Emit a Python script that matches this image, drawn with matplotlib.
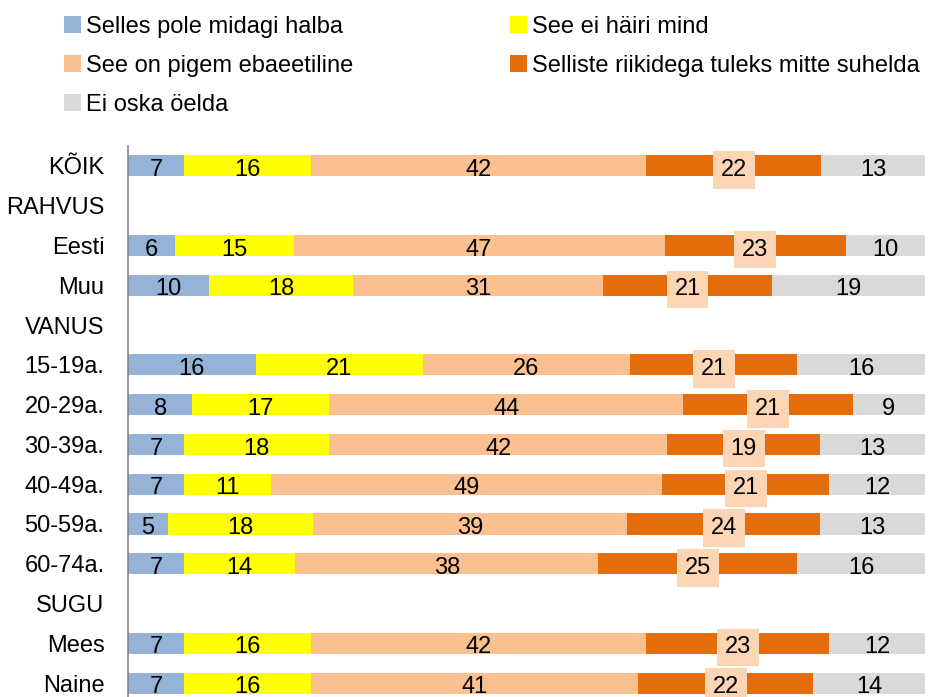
import numpy as np
import matplotlib
matplotlib.use("Agg")
import matplotlib.pyplot as plt
from matplotlib.patches import Patch

plt.rcParams['font.family'] = ['Liberation Sans', 'DejaVu Sans']

# rows of the chart, header rows have no bars
categories = ['KÕIK', 'RAHVUS', 'Eesti', 'Muu', 'VANUS', '15-19a.', '20-29a.',
              '30-39a.', '40-49a.', '50-59a.', '60-74a.', 'SUGU', 'Mees', 'Naine']
headers = ['RAHVUS', 'VANUS', 'SUGU']

series = ['Selles pole midagi halba', 'See ei häiri mind', 'See on pigem ebaeetiline',
          'Selliste riikidega tuleks mitte suhelda', 'Ei oska öelda']
colors = ['#95B3D7', '#FFFF00', '#FAC090', '#E46C0A', '#D9D9D9']

pole_halba = [7, 6, 10, 16, 8, 7, 7, 5, 7, 7, 7]
ei_hairi = [16, 15, 18, 21, 17, 18, 11, 18, 14, 16, 16]
ebaeetiline = [42, 47, 31, 26, 44, 42, 49, 39, 38, 42, 41]
mitte_suhelda = [22, 23, 21, 21, 21, 19, 21, 24, 25, 23, 22]
ei_oska = [13, 10, 19, 16, 9, 13, 12, 13, 16, 12, 14]

data = np.array([pole_halba, ei_hairi, ebaeetiline, mitte_suhelda, ei_oska], dtype=float)
shares = data / data.sum(axis=0) * 100  # 100% stacked

rows = [i for i, c in enumerate(categories) if c not in headers]
ypos = np.array(rows)

fig = plt.figure(figsize=(9.4, 6.97), dpi=100)
ax = fig.add_axes([128 / 940, -6 / 697, 797 / 940, 557 / 697])

fs = 17
bh = 0.53
left = np.zeros(len(rows))
for k in range(len(series)):
    ax.barh(ypos, shares[k], left=left, height=bh, color=colors[k], label=series[k])
    for y, l, w, v in zip(ypos, left, shares[k], data[k]):
        kw = {}
        if k == 3:
            kw['bbox'] = dict(boxstyle='square,pad=0.33', facecolor='#FCD5B5', edgecolor='none')
        ax.text(l + w / 2, y + 0.255, '%d' % v, ha='center', va='baseline',
                fontsize=fs, color='black', **kw)
    left += shares[k]

ax.set_xlim(0, 100)
ax.set_ylim(len(categories) - 0.5, -0.5)
ax.set_yticks(range(len(categories)))
ax.set_yticklabels(categories, fontsize=fs)
ax.tick_params(axis='y', length=0, pad=17)
ax.set_xticks([])
for s in ['top', 'right', 'bottom']:
    ax.spines[s].set_visible(False)
ax.spines['left'].set_color('#868686')
ax.spines['left'].set_linewidth(1.2)

handles = [Patch(facecolor=c, edgecolor='none') for c in colors]
leg_kw = dict(frameon=False, fontsize=fs, handlelength=0.7, handleheight=0.7,
              handletextpad=0.22, labelspacing=0.72, borderpad=0, borderaxespad=0,
              loc='upper left')
fig.legend([handles[0], handles[2], handles[4]], [series[0], series[2], series[4]],
           bbox_to_anchor=(64 / 940, 1 - 16 / 697), **leg_kw)
fig.legend([handles[1], handles[3]], [series[1], series[3]],
           bbox_to_anchor=(510 / 940, 1 - 16 / 697), **leg_kw)

fig.savefig('out.png', dpi=100)
